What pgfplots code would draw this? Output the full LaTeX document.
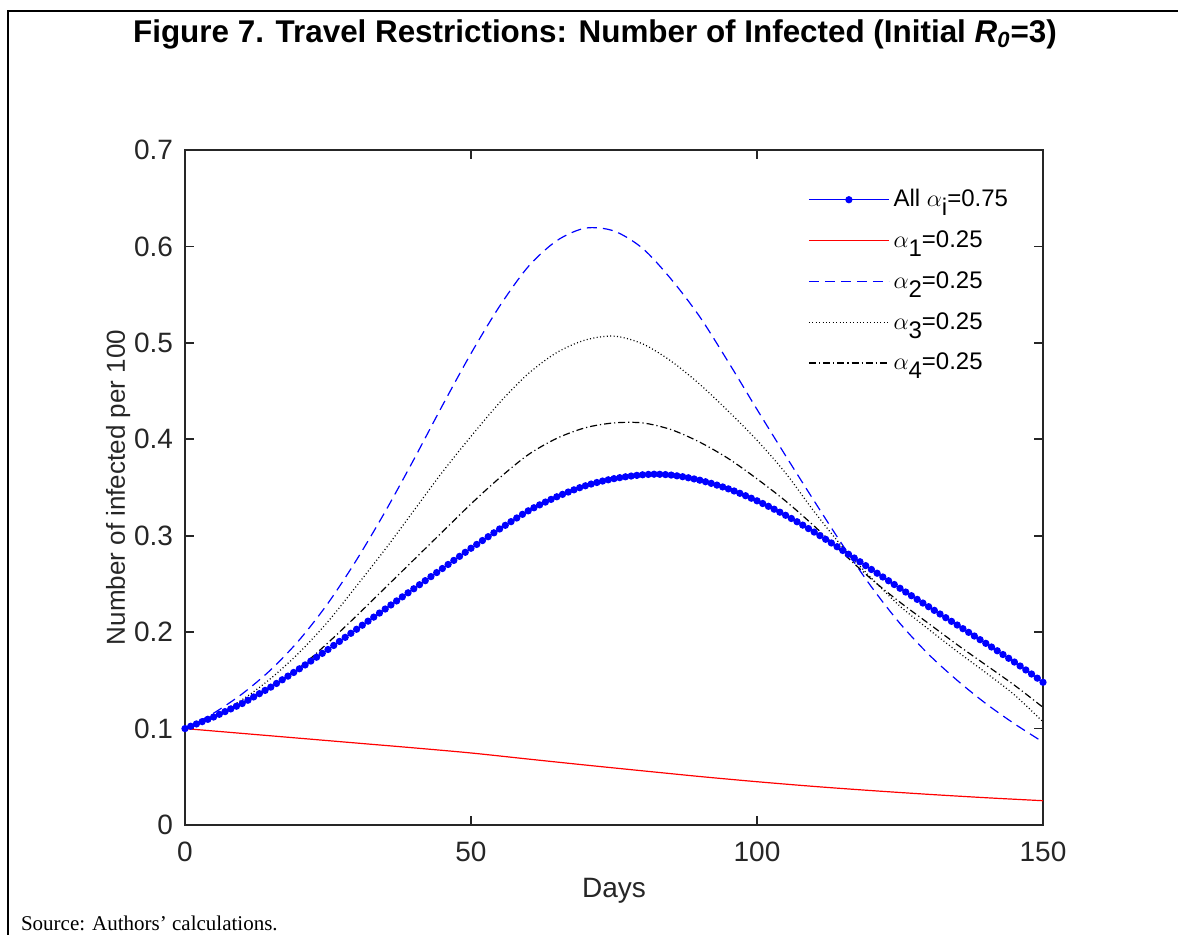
\documentclass[border=0pt]{standalone}
\usepackage{pgfplots}
\pgfplotsset{compat=1.18}
\usepackage{pgfplotstable}
\usepackage{fontspec}
\setmainfont{Liberation Sans}
\newfontfamily\serif{Liberation Serif}

% All alpha_i = 0.75, one value per day
\pgfplotstableread[row sep=\\]{
d v\\
0 0.1000\\ 1 0.1024\\ 2 0.1048\\ 3 0.1072\\ 4 0.1096\\ 5 0.1120\\ 6 0.1148\\ 7 0.1176\\ 8 0.1204\\ 9 0.1232\\
10 0.1260\\ 11 0.1294\\ 12 0.1328\\ 13 0.1362\\ 14 0.1396\\ 15 0.1430\\ 16 0.1468\\ 17 0.1506\\ 18 0.1544\\ 19 0.1582\\
20 0.1620\\ 21 0.1660\\ 22 0.1700\\ 23 0.1740\\ 24 0.1780\\ 25 0.1820\\ 26 0.1862\\ 27 0.1904\\ 28 0.1946\\ 29 0.1988\\
30 0.2030\\ 31 0.2072\\ 32 0.2114\\ 33 0.2156\\ 34 0.2198\\ 35 0.2240\\ 36 0.2282\\ 37 0.2324\\ 38 0.2366\\ 39 0.2408\\
40 0.2450\\ 41 0.2492\\ 42 0.2534\\ 43 0.2576\\ 44 0.2618\\ 45 0.2660\\ 46 0.2702\\ 47 0.2744\\ 48 0.2786\\ 49 0.2828\\
50 0.2870\\ 51 0.2910\\ 52 0.2950\\ 53 0.2990\\ 54 0.3030\\ 55 0.3070\\ 56 0.3108\\ 57 0.3146\\ 58 0.3184\\ 59 0.3222\\
60 0.3258\\ 61 0.3290\\ 62 0.3320\\ 63 0.3349\\ 64 0.3377\\ 65 0.3404\\ 66 0.3429\\ 67 0.3453\\ 68 0.3476\\ 69 0.3498\\
70 0.3518\\ 71 0.3536\\ 72 0.3552\\ 73 0.3567\\ 74 0.3580\\ 75 0.3592\\ 76 0.3602\\ 77 0.3611\\ 78 0.3619\\ 79 0.3626\\
80 0.3632\\ 81 0.3636\\ 82 0.3638\\ 83 0.3637\\ 84 0.3634\\ 85 0.3629\\ 86 0.3621\\ 87 0.3612\\ 88 0.3601\\ 89 0.3589\\
90 0.3576\\ 91 0.3560\\ 92 0.3543\\ 93 0.3525\\ 94 0.3506\\ 95 0.3486\\ 96 0.3464\\ 97 0.3440\\ 98 0.3415\\ 99 0.3389\\
100 0.3362\\ 101 0.3334\\ 102 0.3305\\ 103 0.3275\\ 104 0.3244\\ 105 0.3212\\ 106 0.3179\\ 107 0.3145\\ 108 0.3110\\ 109 0.3074\\
110 0.3038\\ 111 0.3001\\ 112 0.2963\\ 113 0.2925\\ 114 0.2886\\ 115 0.2847\\ 116 0.2808\\ 117 0.2769\\ 118 0.2730\\ 119 0.2690\\
120 0.2650\\ 121 0.2611\\ 122 0.2572\\ 123 0.2533\\ 124 0.2494\\ 125 0.2455\\ 126 0.2416\\ 127 0.2378\\ 128 0.2340\\ 129 0.2302\\
130 0.2264\\ 131 0.2226\\ 132 0.2188\\ 133 0.2150\\ 134 0.2112\\ 135 0.2074\\ 136 0.2036\\ 137 0.1998\\ 138 0.1960\\ 139 0.1922\\
140 0.1884\\ 141 0.1846\\ 142 0.1807\\ 143 0.1768\\ 144 0.1729\\ 145 0.1690\\ 146 0.1649\\ 147 0.1608\\ 148 0.1566\\ 149 0.1523\\
150 0.1480\\
}\allpoint

\pgfplotstableread[row sep=\\]{
d v\\
0 0.1000\\ 10 0.0950\\ 20 0.0900\\ 30 0.0850\\ 40 0.0800\\ 50 0.0747\\ 60 0.0684\\ 70 0.0622\\
80 0.0562\\ 90 0.0503\\ 100 0.0449\\ 110 0.0400\\ 120 0.0357\\ 130 0.0318\\ 140 0.0283\\ 150 0.0252\\
}\alphaone

\pgfplotstableread[row sep=\\]{
d v\\
0 0.100\\ 5 0.116\\ 10 0.136\\ 15 0.161\\ 20 0.192\\ 25 0.230\\ 30 0.275\\ 35 0.325\\ 40 0.379\\ 45 0.435\\
50 0.489\\ 55 0.538\\ 60 0.579\\ 65 0.606\\ 70 0.619\\ 75 0.616\\ 80 0.598\\ 85 0.566\\ 90 0.527\\ 95 0.480\\
100 0.431\\ 105 0.383\\ 110 0.336\\ 115 0.290\\ 120 0.247\\ 125 0.209\\ 130 0.177\\ 135 0.150\\ 140 0.126\\ 145 0.105\\ 150 0.086\\
}\alphatwo

\pgfplotstableread[row sep=\\]{
d v\\
0 0.100\\ 5 0.113\\ 10 0.130\\ 15 0.152\\ 20 0.179\\ 25 0.211\\ 30 0.248\\ 35 0.286\\ 40 0.326\\ 45 0.366\\
50 0.403\\ 55 0.438\\ 60 0.468\\ 65 0.490\\ 70 0.503\\ 75 0.507\\ 80 0.499\\ 85 0.481\\ 90 0.457\\ 95 0.429\\
100 0.399\\ 105 0.365\\ 110 0.325\\ 115 0.288\\ 120 0.256\\ 125 0.227\\ 130 0.203\\ 135 0.180\\ 140 0.158\\ 145 0.135\\ 150 0.107\\
}\alphathree

\pgfplotstableread[row sep=\\]{
d v\\
0 0.100\\ 5 0.112\\ 10 0.126\\ 15 0.143\\ 20 0.163\\ 25 0.189\\ 30 0.217\\ 35 0.246\\ 40 0.275\\ 45 0.304\\
50 0.333\\ 55 0.360\\ 60 0.384\\ 65 0.401\\ 70 0.412\\ 75 0.417\\ 80 0.417\\ 85 0.410\\ 90 0.397\\ 95 0.380\\
100 0.359\\ 105 0.336\\ 110 0.310\\ 115 0.282\\ 120 0.255\\ 125 0.231\\ 130 0.209\\ 135 0.187\\ 140 0.166\\ 145 0.145\\ 150 0.122\\
}\alphafour

\definecolor{axgray}{RGB}{38,38,38}
\tikzset{
  sAll/.style={blue, line width=0.6pt},
  sOne/.style={red, line width=0.6pt},
  sTwo/.style={blue, line width=0.6pt, dash pattern=on 5pt off 3pt},
  sThree/.style={black, line width=0.6pt, dash pattern=on 0.5pt off 1.2pt},
  sFour/.style={black, line width=0.6pt, dash pattern=on 3.5pt off 1.5pt on 0.6pt off 1.5pt},
}

\begin{document}
\begin{tikzpicture}
\useasboundingbox (-92.5pt,-54.5pt) rectangle (496.5pt,412.5pt);
\draw[line width=1pt] (-88.5pt,-60pt) -- (-88.5pt,407pt) -- (500pt,407pt);
\node[font=\fontsize{15.7}{18}\selectfont\bfseries] at (205pt,395.5pt)
  {Figure 7. Travel Restrictions: Number of Infected (Initial \textit{R\textsubscript{0}}=3)};
\node[anchor=west,font=\serif\fontsize{10.5}{12}\selectfont] at (-85.5pt,-49pt) {Source: Authors’ calculations.};

\begin{axis}[
  scale only axis, width=429pt, height=337.5pt,
  xmin=0, xmax=150, ymin=0, ymax=0.7,
  xtick={0,50,100,150}, ytick={0,0.1,...,0.7},
  axis line style={axgray, line width=0.9pt},
  tick style={axgray, line width=0.9pt},
  major tick length=4.5pt, tick align=inside,
  ticklabel style={font=\fontsize{14}{16}\selectfont, text=axgray},
  /pgf/number format/assume math mode=true,
  yticklabel style={/pgf/number format/fixed, /pgf/number format/precision=1, xshift=-2.5pt},
  xticklabel style={yshift=-5pt},
  xlabel={Days}, ylabel={Number of infected per 100},
  label style={text=axgray},
  xlabel style={font=\fontsize{14}{16}\selectfont, at={(axis description cs:0.5,-0.098)}, anchor=center},
  ylabel style={font=\fontsize{13}{15}\selectfont, at={(axis description cs:-0.078,0.5)}, anchor=center},
  legend style={draw=none, fill=none, at={(axis description cs:0.726,0.948)}, anchor=north west,
    font=\fontsize{12}{14}\selectfont, row sep=6.5pt, inner sep=0pt},
  legend cell align=left,
]
\addplot[sAll, mark=*, mark size=1.5pt,
  legend image code/.code={\draw[sAll] (0pt,0pt) -- (40pt,0pt); \fill[blue] (20pt,0pt) circle (1.5pt);}]
  table[x=d,y=v] {\allpoint};
\addlegendentry{All $\alpha$\raisebox{-0.7ex}{i}=0.75}
\addplot[sOne, smooth, legend image code/.code={\draw[sOne] (0pt,0pt) -- (40pt,0pt);}]
  table[x=d,y=v] {\alphaone};
\addlegendentry{$\alpha$\raisebox{-0.7ex}{1}=0.25}
\addplot[sTwo, smooth, legend image code/.code={\draw[sTwo] (0pt,0pt) -- (40pt,0pt);}]
  table[x=d,y=v] {\alphatwo};
\addlegendentry{$\alpha$\raisebox{-0.7ex}{2}=0.25}
\addplot[sThree, smooth, legend image code/.code={\draw[sThree] (0pt,0pt) -- (40pt,0pt);}]
  table[x=d,y=v] {\alphathree};
\addlegendentry{$\alpha$\raisebox{-0.7ex}{3}=0.25}
\addplot[sFour, smooth, legend image code/.code={\draw[sFour] (0pt,0pt) -- (40pt,0pt);}]
  table[x=d,y=v] {\alphafour};
\addlegendentry{$\alpha$\raisebox{-0.7ex}{4}=0.25}
\end{axis}
\end{tikzpicture}
\end{document}
